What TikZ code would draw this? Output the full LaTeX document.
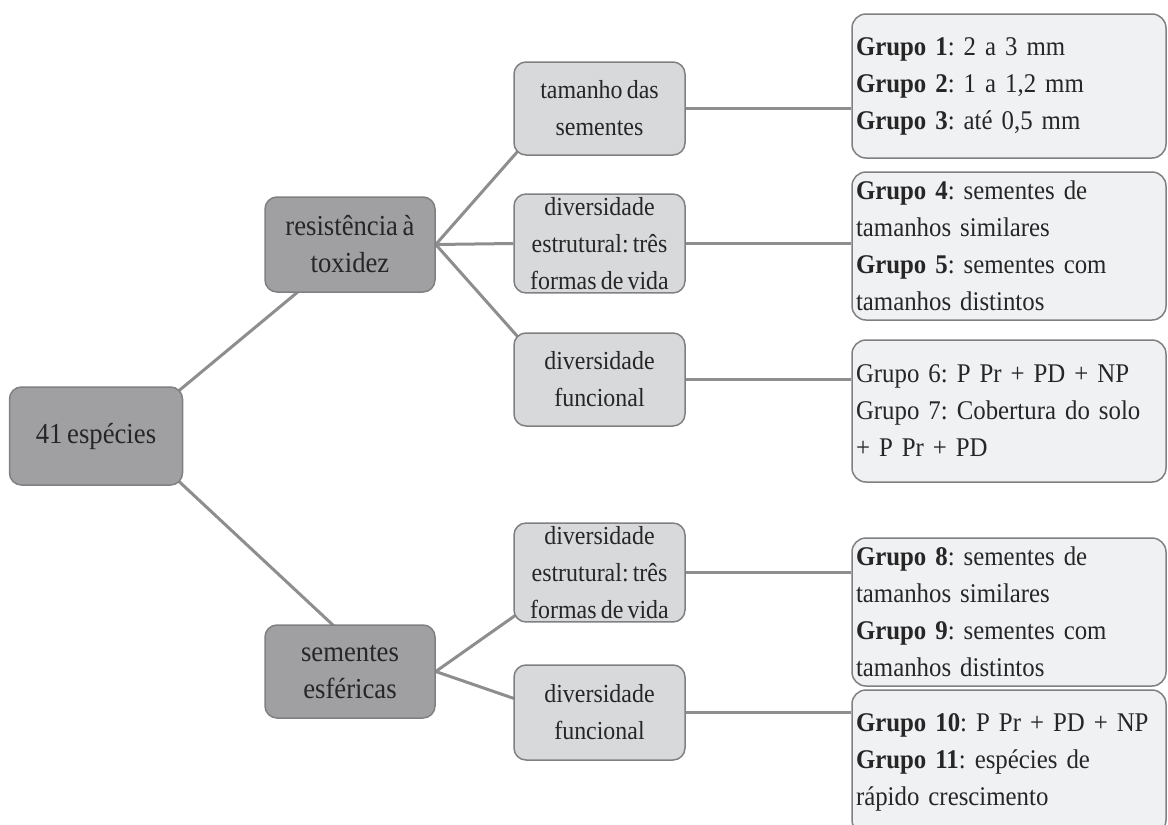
\documentclass[tikz,border=0pt]{standalone}
\usepackage{fontspec}
\setmainfont{Liberation Serif}[FakeStretch = 0.92, WordSpace = 0.7]
\usetikzlibrary{calc}

\definecolor{darkfill}{RGB}{160,160,163}
\definecolor{midfill}{RGB}{216,217,219}
\definecolor{lightfill}{RGB}{240,241,243}
\definecolor{edgegray}{RGB}{128,128,130}
\definecolor{linkgray}{RGB}{142,142,144}

\pgfdeclarelayer{background}
\pgfsetlayers{background,main}

\tikzset{
	topbox/.style = {draw = edgegray, fill = darkfill, line width = 1.5pt, rounded corners = 12pt,
		align = center, text = black!85, font = \fontsize{29}{37}\selectfont},
	subbox/.style = {draw = edgegray, fill = midfill, line width = 1.5pt, rounded corners = 12pt,
		minimum width = 171pt, minimum height = 93pt, align = center, text = black!85,
		font = \fontsize{26}{37}\selectfont},
	groupbox/.style = {draw = edgegray, fill = lightfill, line width = 1.5pt, rounded corners = 14pt,
		minimum width = 314pt, text width = 306pt, inner xsep = 4pt, align = left, text = black!85,
		font = \fontsize{27}{37}\selectfont},
	link/.style = {draw = linkgray, line width = 3pt}
}

\begin{document}
\frenchspacing
\begin{tikzpicture}[x = 1pt, y = -1pt]
	\clip (0,0) rectangle (1168,825);
	% first two levels
	\node [topbox, minimum width = 173pt, minimum height = 98pt] (esp) at (96,436) {41 espécies};
	\node [topbox, minimum width = 170pt, minimum height = 95pt] (res) at (350,244.5) {resistência à\\toxidez};
	\node [topbox, minimum width = 170pt, minimum height = 93pt] (sem) at (350,671.5) {sementes\\esféricas};
	\node [subbox] (tam) at (599.5,108.5) {tamanho das\\sementes};
	\node [subbox] (estA) at (599.5,243.5) {diversidade\\estrutural: três\\formas de vida};
	\node [subbox] (funA) at (599.5,379.5) {diversidade\\funcional};
	\node [subbox, minimum height = 95pt] (estB) at (599.5,572.5) {diversidade\\estrutural: três\\formas de vida};
	\node [subbox, minimum height = 95pt] (funB) at (599.5,712.5) {diversidade\\funcional};
	% groups
	\node [groupbox, minimum height = 144pt] (gA) at (1009,86) {\textbf{Grupo 1}: 2 a 3 mm\\\textbf{Grupo 2}: 1 a 1,2 mm\\\textbf{Grupo 3}: até 0,5 mm};
	\node [groupbox, minimum height = 148pt] (gB) at (1009,246) {\textbf{Grupo 4}: sementes de\\tamanhos similares\\\textbf{Grupo 5}: sementes com\\tamanhos distintos};
	\node [groupbox, minimum height = 142pt] (gC) at (1009,411) {Grupo 6: P Pr + PD + NP\\Grupo 7: Cobertura do solo\\+ P Pr + PD};
	\node [groupbox, minimum height = 148pt] (gD) at (1009,612) {\textbf{Grupo 8}: sementes de\\tamanhos similares\\\textbf{Grupo 9}: sementes com\\tamanhos distintos};
	\node [groupbox, minimum height = 144pt] (gE) at (1009,762) {\textbf{Grupo 10}: P Pr + PD + NP\\\textbf{Grupo 11}: espécies de\\rápido crescimento};
	% connectors
	\begin{pgfonlayer}{background}
		\fill [white] (0,0) rectangle (1168,825);
		\draw [link] ($(esp.north east)+(-5,5)$) -- ($(res.south west)+(35,-2)$);
		\draw [link] ($(esp.south east)+(-5,-5)$) -- ($(sem.north west)+(70,2)$);
		\draw [link] (res.east) -- ($(tam.south west)+(5,-5)$);
		\draw [link] (res.east) -- (estA.west);
		\draw [link] (res.east) -- ($(funA.north west)+(5,5)$);
		\draw [link] (sem.east) -- ($(estB.south west)+(3,-8)$);
		\draw [link] (sem.east) -- ($(funB.north west)+(3,35)$);
		\draw [link] (tam.east) -- (tam.east -| gA.west);
		\draw [link] (estA.east) -- (estA.east -| gB.west);
		\draw [link] (funA.east) -- (funA.east -| gC.west);
		\draw [link] (estB.east) -- (estB.east -| gD.west);
		\draw [link] (funB.east) -- (funB.east -| gE.west);
	\end{pgfonlayer}
\end{tikzpicture}
\end{document}
